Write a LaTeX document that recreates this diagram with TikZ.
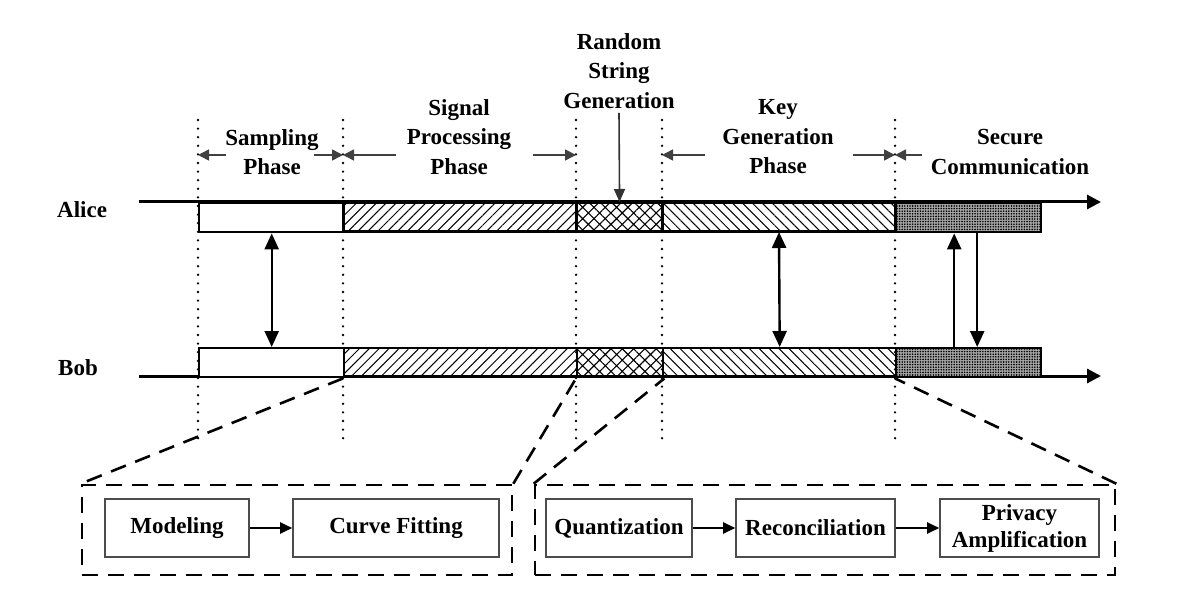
\documentclass[tikz,border=0pt]{standalone}
\usepackage{fontspec}
\setmainfont{Liberation Serif}
\usetikzlibrary{arrows.meta,patterns,patterns.meta}
\tikzset{
  lbl/.style={font=\fontsize{23}{29.5}\selectfont\bfseries, align=center, inner sep=0pt},
  bar/.style={draw, line width=2.4pt, inner sep=0pt, minimum height=29pt, anchor=north west},
  axisline/.style={line width=3pt, -{Triangle[length=14pt,width=14pt]}},
  dotline/.style={line width=2.6pt, dash pattern=on 0pt off 8.6pt, line cap=round},
  phase/.style={line width=1.6pt, draw=black!75, -{Triangle[length=11pt,width=11pt]}},
  sync/.style={line width=2.4pt, {Triangle[length=16pt,width=14pt]}-{Triangle[length=16pt,width=14pt]}},
  oneway/.style={line width=2.4pt, -{Triangle[length=16pt,width=14pt]}},
  zoomline/.style={line width=2.6pt, dash pattern=on 16pt off 10pt},
  group/.style={draw, line width=2.6pt, dash pattern=on 16pt off 10pt, inner sep=0pt, minimum height=90pt},
  stage/.style={draw=black!70, line width=1.6pt, inner sep=0pt, minimum height=58pt,
                font=\fontsize{23}{27}\selectfont\bfseries, align=center},
  flow/.style={line width=2pt, -{Triangle[length=12pt,width=11pt]}},
  hatchA/.style={pattern={Lines[angle=45,distance=7pt,line width=1pt]}},
  hatchB/.style={pattern={Hatch[angle=45,distance=8pt,line width=1.1pt]}},
  hatchC/.style={pattern={Lines[angle=-45,distance=7pt,line width=1pt]}},
  dotsD/.style={fill=black!35, postaction={pattern={Dots[distance=2.6pt,radius=0.9pt]}}},
}
\begin{document}
\begin{tikzpicture}[x=1pt,y=-1pt]
\useasboundingbox (0,0) rectangle (1185,609);

% dotted phase separators
\foreach \n/\x in {1/198,2/343,3/576,4/662,5/895}{
  \coordinate (dt\n) at (\x,120);
  \coordinate (db\n) at (\x,440);
  \draw[dotline] (dt\n) -- (db\n);
}

% time axes
\coordinate (aStart) at (139,202);
\coordinate (aEnd) at (1101,202);
\coordinate (bStart) at (139,376);
\coordinate (bEnd) at (1101,376);
\draw[axisline] (aStart) -- (aEnd);
\draw[axisline] (bStart) -- (bEnd);

\node[lbl, anchor=west] (alice) at (57,210) {Alice};
\node[lbl, anchor=west] (bob) at (58,368) {Bob};

% Alice bars
\node[bar, fill=white, minimum width=145pt] (aS) at (198,202) {};
\node[bar, hatchA, minimum width=233pt] (aP) at (343,202) {};
\node[bar, hatchB, minimum width=86pt] (aR) at (576,202) {};
\node[bar, hatchC, minimum width=233pt] (aK) at (662,202) {};
\node[bar, dotsD, minimum width=145pt] (aC) at (895,202) {};
% Bob bars
\node[bar, fill=white, minimum width=145pt] (bS) at (198,347) {};
\node[bar, hatchA, minimum width=233pt] (bP) at (343,347) {};
\node[bar, hatchB, minimum width=86pt] (bR) at (576,347) {};
\node[bar, hatchC, minimum width=233pt] (bK) at (662,347) {};
\node[bar, dotsD, minimum width=145pt] (bC) at (895,347) {};

% phase labels
\node[lbl] (lS) at (272,152) {Sampling\\Phase};
\node[lbl] (lP) at (459,137) {Signal\\Processing\\Phase};
\node[lbl] (lR) at (619,71) {Random\\String\\Generation};
\node[lbl] (lK) at (778,137) {Key\\Generation\\Phase};
\node[lbl] (lC) at (1010,152) {Secure\\Communication};

% phase extent arrows
\coordinate (s1) at (226,155); \coordinate (s2) at (314,155);
\coordinate (p1) at (396,155); \coordinate (p2) at (533,155);
\coordinate (k1) at (705,155); \coordinate (k2) at (853,155);
\coordinate (c1) at (922,155);
\draw[phase] (s1) -- (s1 -| dt1);
\draw[phase] (s2) -- (s2 -| dt2);
\draw[phase] (p1) -- (p1 -| dt2);
\draw[phase] (p2) -- (p2 -| dt3);
\draw[phase] (k1) -- (k1 -| dt4);
\draw[phase] (k2) -- (k2 -| dt5);
\draw[phase] (c1) -- (c1 -| dt5);

\draw[line width=1.6pt, draw=black!80, -{Triangle[length=13pt,width=11pt]}] ([yshift=-4pt]lR.south) -- (aR.north);

% exchanges between Alice and Bob
\draw[sync] (aS.south) -- (bS.north);
\draw[sync] (aK.south) -- (bK.north);
\draw[oneway] ([xshift=-14.5pt]bC.north) -- ([xshift=-14.5pt]aC.south);
\draw[oneway] ([xshift=8.5pt]aC.south) -- ([xshift=8.5pt]bC.north);

% detail groups
\node[group, minimum width=430pt] (g1) at (297,530) {};
\node[group, minimum width=580pt] (g2) at (825,530) {};

\draw[zoomline] (bP.south west) -- (g1.north west);
\draw[zoomline] (g1.north east) -- (bR.south west);
\draw[zoomline] (g2.north west) -- (bR.south east);
\draw[zoomline] (g2.north east) -- (bC.south west);

\node[stage, minimum width=144pt] (mod) at (177,528) {Modeling};
\node[stage, minimum width=206pt] (cur) at (396,528) {Curve Fitting};
\node[stage, minimum width=146pt] (qua) at (619,528) {Quantization};
\node[stage, minimum width=159pt] (rec) at (815.5,528) {Reconciliation};
\node[stage, minimum width=159pt] (pri) at (1019.5,528) {Privacy\\Amplification};

\draw[flow] (mod) -- (cur);
\draw[flow] (qua) -- (rec);
\draw[flow] (rec) -- (pri);
\end{tikzpicture}
\end{document}
